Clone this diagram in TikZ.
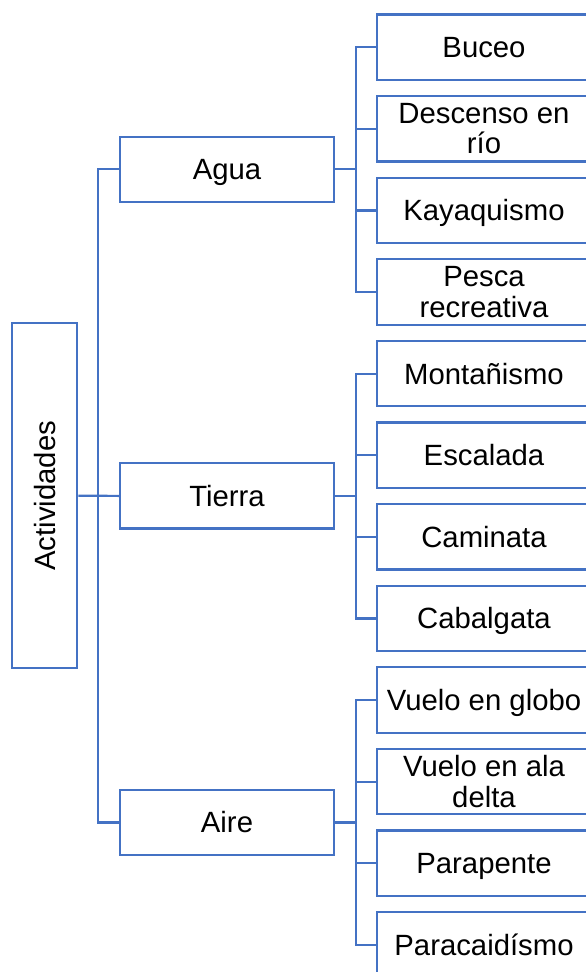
\documentclass[tikz,border=0pt]{standalone}
\usepackage{fontspec}
\setmainfont{Liberation Sans}
\definecolor{lineblue}{HTML}{4472C4}
\begin{document}
\begin{tikzpicture}[x=1pt,y=-1pt,
  box/.style={draw=lineblue, line width=2.2pt, fill=white, minimum width=214pt,
    minimum height=65.3pt, inner sep=0pt, align=center,
    font=\fontsize{29.3}{30.5}\selectfont},
  one/.style={text height=21pt, text depth=0pt},
  link/.style={draw=lineblue, line width=2.2pt},
  rottext/.style={rotate=90, inner sep=0pt, text height=21pt, text depth=0pt,
    font=\fontsize{29.3}{30.5}\selectfont}]
\useasboundingbox (0,0) rectangle (586,972);
% root
\node[box, minimum width=65.6pt, minimum height=344.7pt] (root) at (44.5,495.7) {};
\node[rottext] (roottext) at (root.center) {Actividades};
% middle level
\node[box, one] (agua) at (227,169.3) {Agua};
\node[box, one] (tierra) at (227,495.9) {Tierra};
\node[box, one] (aire) at (227,822.4) {Aire};
% leaves
\node[box, one] (l1) at (484,47.2) {Buceo};
\node[box] (l2) at (484,128.8) {Descenso en\\río};
\node[box, one] (l3) at (484,210.4) {Kayaquismo};
\node[box] (l4) at (484,292.0) {Pesca\\recreativa};
\node[box, one] (l5) at (484,373.6) {Montañismo};
\node[box, one] (l6) at (484,455.2) {Escalada};
\node[box, one] (l7) at (484,536.8) {Caminata};
\node[box, one] (l8) at (484,618.4) {Cabalgata};
\node[box, one] (l9) at (484,700.0) {Vuelo en globo};
\node[box] (l10) at (484,781.6) {Vuelo en ala\\delta};
\node[box, one] (l11) at (484,863.2) {Parapente};
\node[box, one] (l12) at (484,944.8) {Paracaidísmo};
% bus coordinates
\coordinate (rb) at (98.3,0);
\coordinate (lb) at (355.6,0);
% root connectors
\draw[link] (root.east) -- (tierra.west);
\draw[link] (agua.west) -- (agua.west -| rb) -- (aire.west -| rb) -- (aire.west);
% group connectors
\foreach \m/\a/\b/\c/\d in {agua/l1/l2/l3/l4, tierra/l5/l6/l7/l8, aire/l9/l10/l11/l12}{
  \draw[link] (\m.east) -- (\m.east -| lb);
  \draw[link] (\a.west) -- (\a.west -| lb) -- (\d.west -| lb) -- (\d.west);
  \draw[link] (\b.west) -- (\b.west -| lb);
  \draw[link] (\c.west) -- (\c.west -| lb);
}
\end{tikzpicture}
\end{document}
